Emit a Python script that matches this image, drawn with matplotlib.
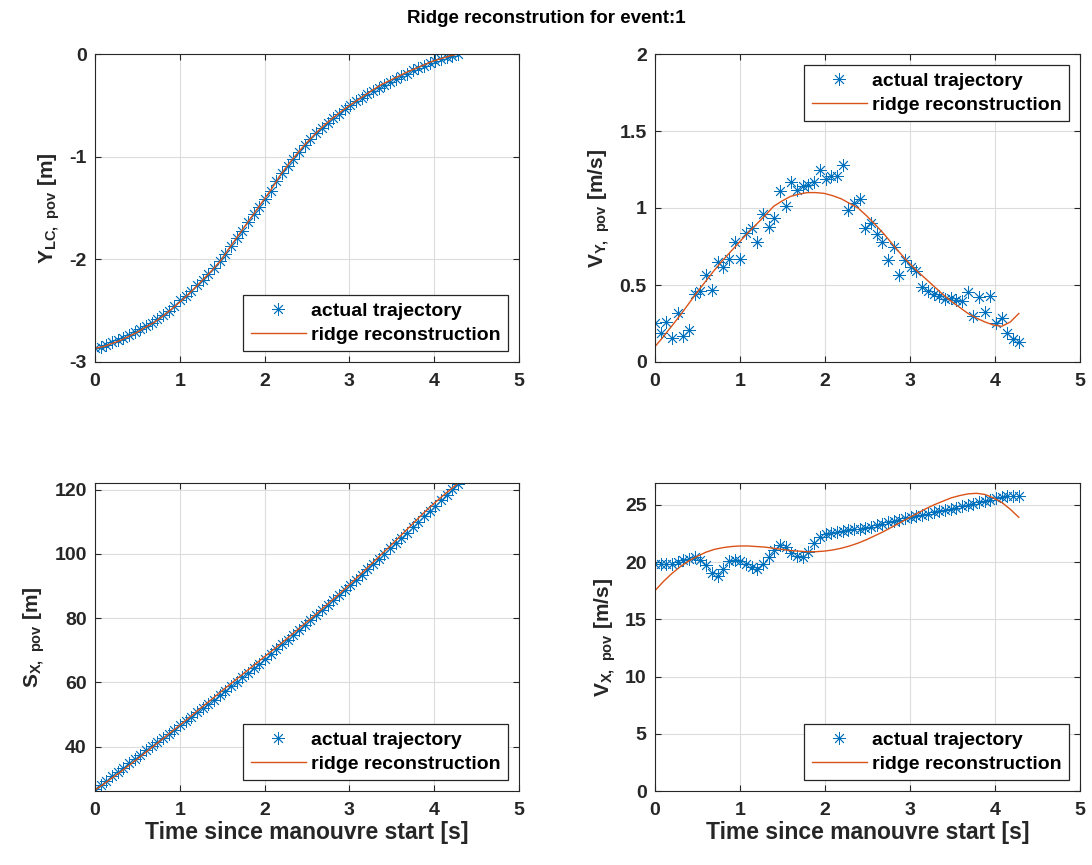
import numpy as np
import matplotlib
matplotlib.use("Agg")
import matplotlib.pyplot as plt

plt.rcParams['font.family'] = ['Liberation Sans', 'DejaVu Sans']
plt.rcParams['font.weight'] = 'bold'
plt.rcParams['mathtext.fontset'] = 'custom'
plt.rcParams['mathtext.bf'] = 'Liberation Sans:bold'
plt.rcParams['mathtext.rm'] = 'Liberation Sans:bold'
plt.rcParams['mathtext.default'] = 'bf'

# time base of the samples and of the ridge fit
t_end = 4.28
n_pts = 65
n_fit = 44

# lateral position Y_LC [m]
y_lc_pts = [-2.86, -2.85, -2.83, -2.81, -2.79, -2.77, -2.74, -2.71, -2.68, -2.65,
            -2.62, -2.58, -2.54, -2.50, -2.45, -2.40, -2.36, -2.31, -2.25, -2.20,
            -2.14, -2.08, -2.02, -1.95, -1.87, -1.79, -1.72, -1.64, -1.56, -1.49,
            -1.41, -1.33, -1.24, -1.16, -1.09, -1.02, -0.95, -0.89, -0.83, -0.77,
            -0.72, -0.67, -0.62, -0.58, -0.54, -0.50, -0.46, -0.43, -0.39, -0.36,
            -0.33, -0.30, -0.27, -0.24, -0.21, -0.19, -0.16, -0.14, -0.12, -0.09,
            -0.07, -0.05, -0.03, -0.02, 0.00]
y_lc_fit = [-2.866, -2.85, -2.82, -2.79, -2.75, -2.71, -2.66, -2.615, -2.555, -2.49,
            -2.42, -2.345, -2.265, -2.18, -2.095, -2.0, -1.88, -1.765, -1.65, -1.535,
            -1.42, -1.305, -1.175, -1.065, -0.965, -0.87, -0.785, -0.705, -0.635, -0.57,
            -0.51, -0.455, -0.4, -0.345, -0.295, -0.255, -0.215, -0.175, -0.14, -0.105,
            -0.07, -0.045, -0.02, 0.0]

# lateral velocity V_Y [m/s]
v_y_pts = [0.253, 0.19, 0.26, 0.156, 0.32, 0.17, 0.21, 0.44, 0.46, 0.567,
           0.47, 0.647, 0.62, 0.67, 0.777, 0.67, 0.84, 0.87, 0.777, 0.963,
           0.877, 0.935, 1.11, 1.01, 1.17, 1.12, 1.145, 1.15, 1.166, 1.244,
           1.188, 1.205, 1.21, 1.28, 0.99, 1.03, 1.06, 0.87, 0.90, 0.833,
           0.78, 0.664, 0.746, 0.567, 0.664, 0.62, 0.588, 0.49, 0.458, 0.443,
           0.426, 0.409, 0.415, 0.404, 0.393, 0.452, 0.30, 0.422, 0.322, 0.43,
           0.253, 0.286, 0.19, 0.149, 0.127]
v_y_fit = [0.10, 0.165, 0.235, 0.305, 0.38, 0.455, 0.525, 0.595, 0.66, 0.72,
           0.78, 0.84, 0.895, 0.95, 1.01, 1.045, 1.075, 1.09, 1.10, 1.10,
           1.095, 1.08, 1.06, 1.03, 1.0, 0.95, 0.895, 0.835, 0.77, 0.705,
           0.645, 0.59, 0.54, 0.49, 0.44, 0.395, 0.355, 0.315, 0.285, 0.26,
           0.24, 0.232, 0.26, 0.315]

# longitudinal position S_X [m]
s_x_pts = [26.8, 28.13, 29.46, 30.79, 32.12, 33.46, 34.8, 36.15, 37.51, 38.86,
           40.16, 41.43, 42.69, 43.98, 45.32, 46.67, 48.01, 49.33, 50.64, 51.93,
           53.25, 54.61, 56.01, 57.44, 58.86, 60.25, 61.62, 62.98, 64.37, 65.82,
           67.3, 68.8, 70.3, 71.81, 73.32, 74.84, 76.36, 77.89, 79.42, 80.96,
           82.51, 84.07, 85.64, 87.21, 88.79, 90.38, 91.97, 93.57, 95.18, 96.79,
           98.41, 100.04, 101.68, 103.32, 104.97, 106.63, 108.29, 109.96, 111.64, 113.33,
           115.02, 116.73, 118.44, 120.16, 121.88]
s_x_fit = [26.5, 28.3, 30.2, 32.1, 34.1, 36.1, 38.2, 40.3, 42.4, 44.5,
           46.6, 48.7, 50.9, 53.0, 55.1, 57.3, 59.4, 61.5, 63.6, 65.7,
           67.8, 69.9, 72.0, 74.2, 76.4, 78.6, 80.8, 83.1, 85.4, 87.7,
           90.1, 92.5, 95.0, 97.5, 100.0, 102.5, 105.1, 107.7, 110.3, 112.9,
           115.3, 117.6, 119.8, 122.0]

# longitudinal velocity V_X [m/s]
v_x_pts = [19.86, 19.8, 19.8, 19.86, 20.0, 20.15, 20.3, 20.4, 20.2, 19.71,
           19.0, 18.75, 19.42, 20.1, 20.2, 20.1, 19.86, 19.57, 19.42, 19.8,
           20.45, 21.02, 21.46, 21.3, 20.8, 20.5, 20.45, 20.88, 21.67, 22.19,
           22.47, 22.56, 22.62, 22.7, 22.76, 22.85, 22.91, 22.97, 23.05, 23.2,
           23.35, 23.49, 23.58, 23.7, 23.84, 23.92, 24.0, 24.13, 24.21, 24.33,
           24.44, 24.56, 24.65, 24.74, 24.85, 24.97, 25.08, 25.2, 25.29, 25.43,
           25.6, 25.72, 25.75, 25.75, 25.75]
v_x_fit = [17.5, 18.3, 19.0, 19.6, 20.1, 20.5, 20.85, 21.1, 21.25, 21.35,
           21.4, 21.4, 21.35, 21.3, 21.2, 21.1, 21.0, 20.95, 20.9, 20.9,
           20.95, 21.05, 21.2, 21.4, 21.65, 21.95, 22.3, 22.65, 23.05, 23.45,
           23.85, 24.25, 24.65, 25.0, 25.3, 25.6, 25.8, 25.95, 26.0, 25.9,
           25.6, 25.2, 24.6, 23.9]

t_pts = np.linspace(0, t_end, n_pts)
t_fit = np.linspace(0, t_end, n_fit)

blue = '#0072BD'
orange = '#D95319'
axcol = '#262626'

fig = plt.figure(figsize=(10.92, 8.65), dpi=100)
fig.suptitle('Ridge reconstrution for event:1', fontsize=13.5, fontweight='bold', y=0.988)

W, H = 1092, 865
boxes = [(95, 54, 424, 308), (655, 54, 425, 308),
         (95, 483, 424, 308), (655, 483, 425, 308)]

panels = [
    (y_lc_pts, y_lc_fit, 'Y$_{LC,\\ pov}$ [m]', (-3, 0), [-3, -2, -1, 0], 'lower right'),
    (v_y_pts, v_y_fit, 'V$_{Y,\\ pov}$ [m/s]', (0, 2), [0, 0.5, 1, 1.5, 2], 'upper right'),
    (s_x_pts, s_x_fit, 'S$_{X,\\ pov}$ [m]', (26.2, 122.05), [40, 60, 80, 100, 120], 'lower right'),
    (v_x_pts, v_x_fit, 'V$_{X,\\ pov}$ [m/s]', (0, 26.9), [0, 5, 10, 15, 20, 25], 'lower right'),
]

for i, (pts, fit, ylab, ylim, yticks, loc) in enumerate(panels):
    x0, y0, w, h = boxes[i]
    ax = fig.add_axes([x0 / W, 1 - (y0 + h) / H, w / W, h / H])
    ax.plot(t_pts, pts, linestyle='none', marker=(8, 2, 0), markersize=9,
            markeredgewidth=0.6, color=blue, label='actual trajectory')
    ax.plot(t_fit, fit, color=orange, linewidth=1.0, label='ridge reconstruction')
    ax.set_xlim(0, 5)
    ax.set_ylim(*ylim)
    ax.set_xticks([0, 1, 2, 3, 4, 5])
    ax.set_yticks(yticks)
    ax.set_yticklabels([f'{v:g}' for v in yticks])
    ax.grid(True, color='#dcdcdc', linewidth=0.8)
    ax.set_axisbelow(True)
    ax.tick_params(direction='in', length=4, width=0.8, top=True, right=True,
                   colors=axcol, labelsize=14)
    ax.tick_params(axis='x', pad=8)
    ax.tick_params(axis='y', pad=6)
    for lab in ax.get_xticklabels() + ax.get_yticklabels():
        lab.set_fontweight('bold')
    for sp in ax.spines.values():
        sp.set_color(axcol)
        sp.set_linewidth(0.8)
    ax.set_ylabel(ylab, fontsize=15, fontweight='bold', color=axcol, labelpad=5)
    if i >= 2:
        ax.set_xlabel('Time since manouvre start [s]', fontsize=16.5,
                      fontweight='bold', color=axcol, labelpad=1)
    leg = ax.legend(loc=loc, fontsize=14, frameon=True, fancybox=False,
                    framealpha=1, edgecolor='#262626', handlelength=2.85,
                    handletextpad=0.25, borderaxespad=0.55, borderpad=0.4,
                    labelspacing=0.3)
    leg.get_frame().set_linewidth(0.9)
    for txt in leg.get_texts():
        txt.set_fontweight('bold')

fig.savefig('out.png', dpi=100)
